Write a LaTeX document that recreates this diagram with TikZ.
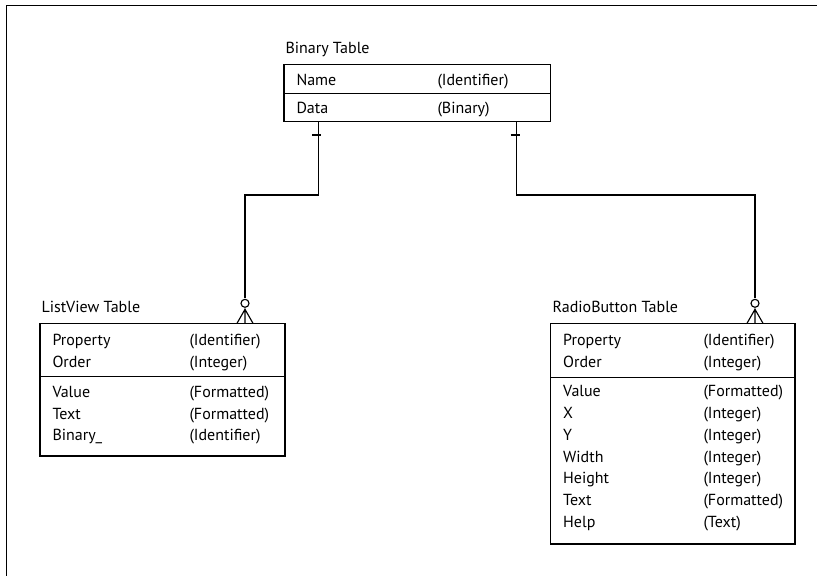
\documentclass[tikz,border=0pt]{standalone}
\usepackage{fontspec}
\setmainfont{PT Sans}
\tikzset{every picture/.style={line width=0.75pt}}

\begin{document}
\begin{tikzpicture}[x=0.75pt,y=0.75pt,yscale=-1,xscale=1,
    lbl/.style={anchor=base west,inner sep=0.75pt,font=\fontsize{12}{14}\selectfont},
    tbl/.style={line width=0.85pt},
    rel/.style={line width=0.85pt}]
    \useasboundingbox (0,0) rectangle (817,576);

    %Straight Lines [frame]
    \draw [rel]   (817,5.5) -- (6.5,5.5) -- (6.5,576) ;

    %Shape: Rectangle [Binary Table]
    \draw [tbl]   (284,64.3) rectangle (550.7,121.7) ;
    \draw [tbl]   (284,93.3) -- (550.7,93.3) ;
    %Shape: Rectangle [ListView Table]
    \draw [tbl]   (40,323.3) rectangle (285,456) ;
    \draw [tbl]   (40,376.7) -- (285,376.7) ;
    %Shape: Rectangle [RadioButton Table]
    \draw [tbl]   (550.7,323.3) rectangle (795,544) ;
    \draw [tbl]   (550.7,377.3) -- (795,377.3) ;

    %Coordinates for the relations
    \coordinate (binL) at (318.3,121.7) ;
    \coordinate (binR) at (516.7,121.7) ;
    \coordinate (lvTop) at (245,323.3) ;
    \coordinate (rbTop) at (755,323.3) ;

    %Straight Lines [Binary -> ListView]
    \draw [rel]   (binL) -- ++(0,73.3) -| ([yshift=-19]lvTop) ;
    \draw [rel]   ([xshift=-4.5,yshift=10]binL) -- ++(9,0) ;
    \draw [rel]   ([yshift=-15]lvTop) circle (4) ;
    \draw [rel]   ([xshift=-6]lvTop) -- ([yshift=-10.5]lvTop) -- ([xshift=6]lvTop) ([yshift=-11]lvTop) -- (lvTop) ;
    %Straight Lines [Binary -> RadioButton]
    \draw [rel]   (binR) -- ++(0,73.3) -| ([yshift=-19]rbTop) ;
    \draw [rel]   ([xshift=-4.5,yshift=10]binR) -- ++(9,0) ;
    \draw [rel]   ([yshift=-15]rbTop) circle (4) ;
    \draw [rel]   ([xshift=-6]rbTop) -- ([yshift=-10.5]rbTop) -- ([xshift=6]rbTop) ([yshift=-11]rbTop) -- (rbTop) ;

    % Text Node
    \draw (284,53.3) node [lbl] (binTitle) {Binary Table};
    \draw (295,85) node [lbl] (binName) {Name};
    \draw (436,85) node [lbl] (binNameT) {(Identifier)};
    \draw (295,113.3) node [lbl] (binData) {Data};
    \draw (436,113.3) node [lbl] (binDataT) {(Binary)};

    % Text Node
    \draw (40,312.3) node [lbl] (lvTitle) {ListView Table};
    \draw (51,345.7) node [lbl] (lvProp) {Property};
    \draw (188,345.7) node [lbl] (lvPropT) {(Identifier)};
    \draw (51,367.3) node [lbl] (lvOrder) {Order};
    \draw (188,367.3) node [lbl] (lvOrderT) {(Integer)};
    \draw (51,397.3) node [lbl] (lvValue) {Value};
    \draw (188,397.3) node [lbl] (lvValueT) {(Formatted)};
    \draw (51,419) node [lbl] (lvText) {Text};
    \draw (188,419) node [lbl] (lvTextT) {(Formatted)};
    \draw (51,440.7) node [lbl] (lvBin) {Binary\_};
    \draw (188,440.7) node [lbl] (lvBinT) {(Identifier)};

    % Text Node
    \draw (551,312.3) node [lbl] (rbTitle) {RadioButton Table};
    \draw (561.7,345.7) node [lbl] (rbProp) {Property};
    \draw (702,345.7) node [lbl] (rbPropT) {(Identifier)};
    \draw (561.7,367.3) node [lbl] (rbOrder) {Order};
    \draw (702,367.3) node [lbl] (rbOrderT) {(Integer)};
    \draw (561.7,396.7) node [lbl] (rbValue) {Value};
    \draw (702,396.7) node [lbl] (rbValueT) {(Formatted)};
    \draw (561.7,418.5) node [lbl] (rbX) {X};
    \draw (702,418.5) node [lbl] (rbXT) {(Integer)};
    \draw (561.7,440.3) node [lbl] (rbY) {Y};
    \draw (702,440.3) node [lbl] (rbYT) {(Integer)};
    \draw (561.7,462) node [lbl] (rbWidth) {Width};
    \draw (702,462) node [lbl] (rbWidthT) {(Integer)};
    \draw (561.7,483.8) node [lbl] (rbHeight) {Height};
    \draw (702,483.8) node [lbl] (rbHeightT) {(Integer)};
    \draw (561.7,505.5) node [lbl] (rbText) {Text};
    \draw (702,505.5) node [lbl] (rbTextT) {(Formatted)};
    \draw (561.7,527.3) node [lbl] (rbHelp) {Help};
    \draw (702,527.3) node [lbl] (rbHelpT) {(Text)};

\end{tikzpicture}
\end{document}
